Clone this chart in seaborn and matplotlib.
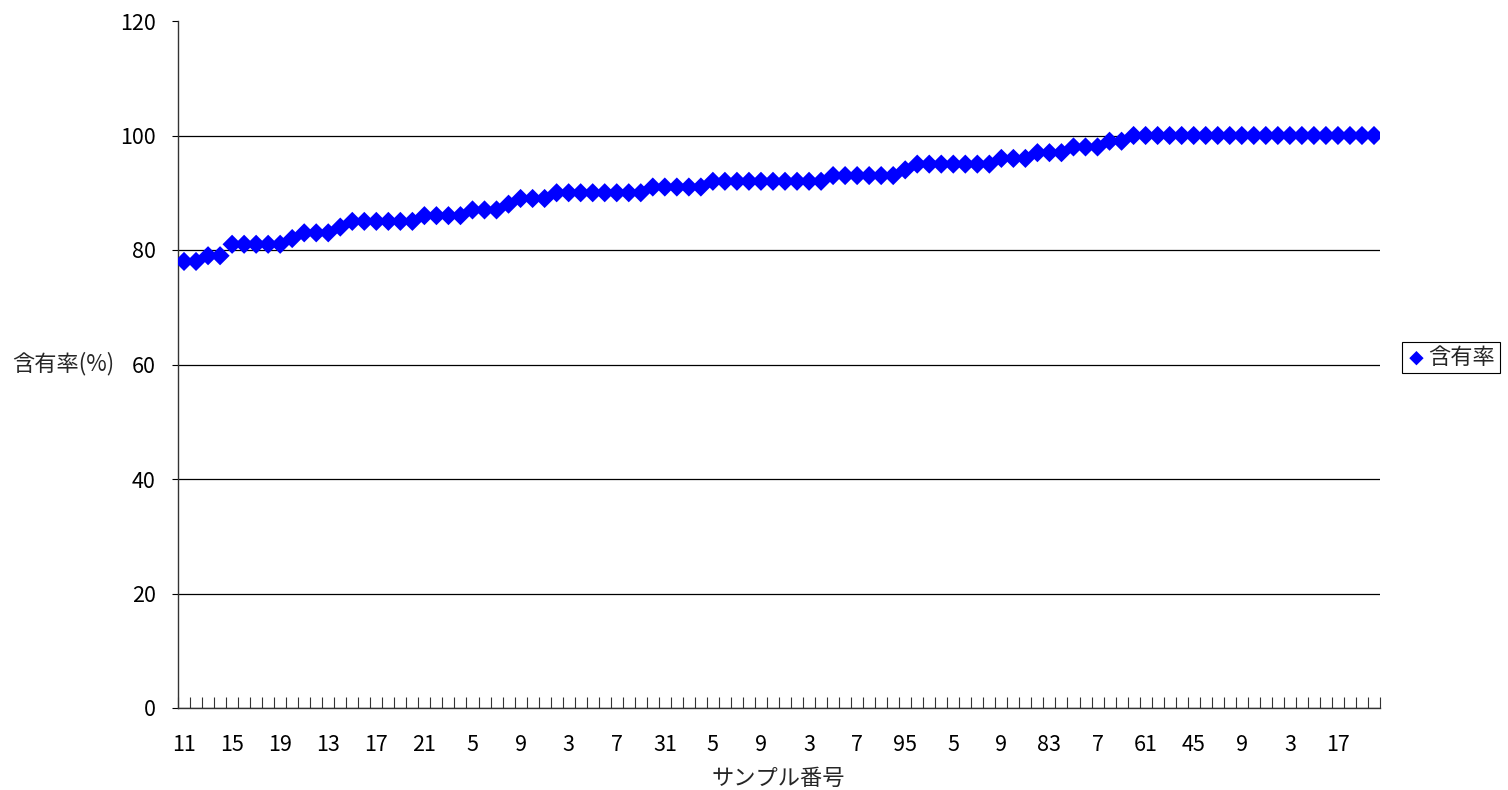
import matplotlib
matplotlib.use("Agg")
import matplotlib.pyplot as plt
import seaborn as sns
import pandas as pd
import numpy as np

# ---- data ----
values = ([78, 78, 79, 79] + [81] * 5 + [82] + [83] * 3 + [84] + [85] * 6 +
          [86] * 4 + [87] * 3 + [88] + [89] * 3 + [90] * 8 + [91] * 5 +
          [92] * 10 + [93] * 6 + [94] + [95] * 7 + [96] * 3 + [97] * 3 +
          [98] * 3 + [99] * 2 + [100] * 21)
tick_labels = ["11", "15", "19", "13", "17", "21", "5", "9", "3", "7", "31", "5",
               "9", "3", "7", "95", "5", "9", "83", "7", "61", "45", "9", "3", "17"]
tick_every = 4
series_name = "含有率"
y_label = "含有率(%)"
x_label = "サンプル番号"
y_ticks = [0, 20, 40, 60, 80, 100, 120]

df = pd.DataFrame({"idx": np.arange(len(values)), "val": values})

sns.set_style("white")
plt.rcParams["font.family"] = ["Noto Sans CJK JP", "DejaVu Sans"]

fig = plt.figure(figsize=(15.08, 7.90), dpi=100)
ax = fig.add_axes([178 / 1508, 1 - 708 / 790, 1202 / 1508, 687 / 790])

sns.scatterplot(data=df, x="idx", y="val", marker="D", s=95, color="#0000FF",
                edgecolor="none", linewidth=0, label=series_name, ax=ax, zorder=3)

ax.set_xlim(-0.5, len(values) - 0.5)
ax.set_ylim(0, 120)

# y axis
ax.set_yticks(y_ticks)
ax.yaxis.grid(True, color="black", linewidth=0.9)
ax.get_ygridlines()[-1].set_visible(False)
ax.tick_params(axis="y", direction="out", length=4, width=0.8, pad=12,
               labelsize=15.5, colors="black", left=True)

# x axis: labels every 4th, ticks at category boundaries
ax.set_xticks(np.arange(0, len(values), tick_every))
ax.set_xticklabels(tick_labels)
ax.set_xticks(np.arange(-0.5, len(values), 1), minor=True)
ax.tick_params(axis="x", which="major", length=0, pad=19, labelsize=15.5, colors="black")
ax.tick_params(axis="x", which="minor", direction="in", length=8, width=0.8,
               color="#333333", bottom=True)

for side in ["top", "right"]:
    ax.spines[side].set_visible(False)
for side in ["left", "bottom"]:
    ax.spines[side].set_color("#333333")
    ax.spines[side].set_linewidth(1.0)

ax.set_ylabel(y_label, rotation=0, fontsize=16, va="center", ha="center")
ax.yaxis.set_label_coords(-0.0957, 0.502)
ax.set_xlabel(x_label, fontsize=16, va="center", ha="center")
ax.xaxis.set_label_coords(0.499, -0.102)

leg = ax.legend(loc="center left", bbox_to_anchor=(1402 / 1508, 1 - 357.5 / 790),
                bbox_transform=fig.transFigure, fontsize=16, frameon=True,
                fancybox=False, framealpha=1, edgecolor="black", borderpad=0.2,
                handletextpad=0.1, handlelength=0.9, borderaxespad=0, markerscale=0.75)
leg.get_frame().set_linewidth(0.8)

fig.savefig("out.png", dpi=100)
